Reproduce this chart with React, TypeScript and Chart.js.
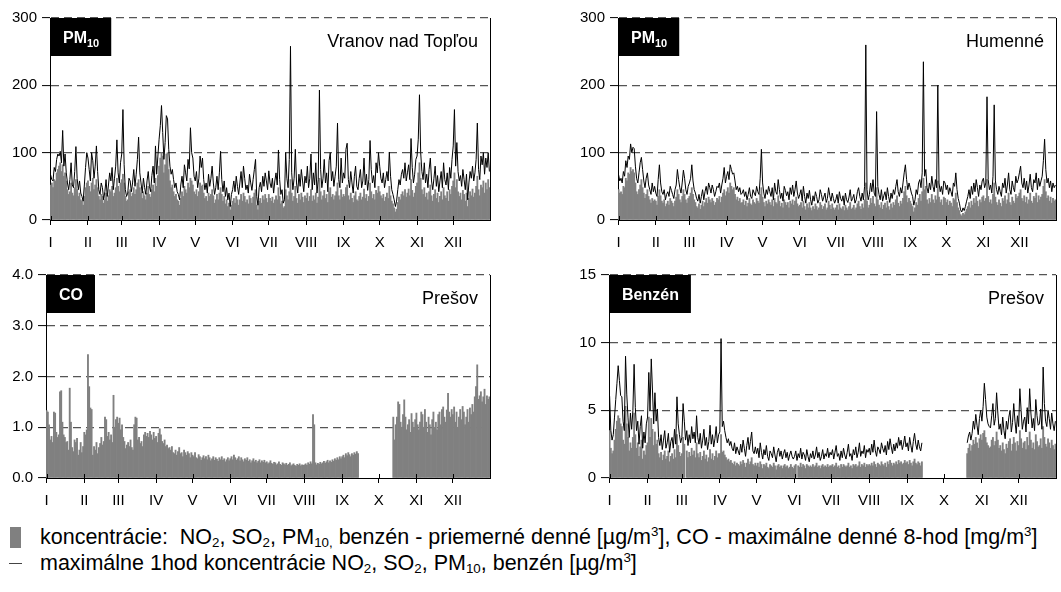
import { useEffect, useRef } from "react";
import { Chart, registerables } from "chart.js";

Chart.register(...registerables);

const FONT = '"Liberation Sans", Arial, Helvetica, sans-serif';

// Months as Roman numerals on the time axis
const MONTHS = ["I", "II", "III", "IV", "V", "VI", "VII", "VIII", "IX", "X", "XI", "XII"];
const MONTH_LENGTHS = [31, 28, 31, 30, 31, 30, 31, 31, 30, 31, 30, 31];
const MONTH_START: number[] = MONTH_LENGTHS.reduce<number[]>((acc, _n, i) => {
  acc.push(i === 0 ? 0 : acc[i - 1] + MONTH_LENGTHS[i - 1]);
  return acc;
}, []);

type Month = (number | null)[];

// PM10 – Vranov nad Topľou, daily mean [µg/m3], one row per month
const vranovDaily: Month[] = [
  [52, 55, 48, 60, 58, 70, 75, 80, 85, 72, 82, 65, 70, 58, 45, 38, 42, 55, 40, 36, 48, 60, 45, 35, 40, 30, 28, 22, 35, 48, 55],
  [58, 50, 42, 55, 62, 45, 52, 60, 48, 35, 30, 38, 35, 25, 30, 40, 28, 36, 45, 42, 50, 35, 40, 48, 62, 50, 42, 55],
  [60, 68, 55, 35, 28, 30, 42, 45, 35, 40, 48, 38, 45, 55, 60, 48, 40, 32, 42, 36, 30, 40, 50, 38, 34, 45, 52, 42, 62, 50, 66],
  [80, 92, 100, 95, 70, 82, 98, 100, 75, 58, 48, 52, 42, 35, 38, 30, 28, 22, 32, 42, 35, 50, 45, 40, 55, 48, 62, 58, 52, 42],
  [38, 45, 35, 42, 55, 50, 52, 40, 32, 35, 28, 40, 35, 38, 45, 36, 25, 30, 38, 30, 40, 48, 38, 28, 35, 24, 30, 20, 25, 15, 22],
  [28, 32, 25, 35, 30, 22, 30, 38, 28, 40, 35, 26, 30, 24, 36, 32, 25, 34, 40, 45, 22, 15, 28, 32, 25, 36, 30, 38, 32, 26],
  [38, 32, 28, 34, 25, 30, 36, 30, 48, 35, 24, 28, 18, 20, 45, 36, 30, 42, 60, 40, 28, 35, 50, 32, 25, 38, 30, 40, 34, 26, 36],
  [32, 40, 28, 35, 45, 28, 36, 30, 40, 25, 34, 62, 42, 30, 36, 44, 32, 38, 26, 42, 48, 34, 38, 30, 36, 42, 55, 36, 30, 45, 34],
  [38, 35, 48, 52, 36, 30, 40, 32, 26, 36, 42, 30, 28, 35, 40, 30, 34, 46, 32, 38, 28, 35, 55, 42, 32, 38, 30, 44, 40, 50],
  [42, 36, 32, 38, 28, 34, 40, 32, 50, 36, 28, 24, 18, 12, 16, 26, 34, 30, 38, 42, 36, 45, 34, 40, 46, 36, 60, 44, 34, 40, 50],
  [55, 70, 85, 62, 45, 38, 48, 34, 40, 30, 42, 52, 36, 28, 38, 45, 32, 40, 26, 35, 42, 30, 48, 36, 32, 42, 28, 45, 38, 50],
  [58, 70, 48, 60, 42, 35, 40, 30, 44, 38, 28, 40, 20, 32, 42, 36, 46, 34, 40, 50, 65, 45, 36, 52, 48, 58, 40, 55, 45, 60, 48],
];

// PM10 – Vranov nad Topľou, daily maximum of 1-hour values [µg/m3]
const vranovMax1h: Month[] = [
  [67, 60, 58, 78, 72, 90, 98, 95, 102, 85, 133, 80, 98, 70, 55, 45, 60, 85, 52, 48, 72, 109, 62, 45, 58, 40, 35, 28, 52, 78, 100],
  [92, 75, 58, 100, 88, 62, 80, 110, 72, 45, 38, 55, 48, 30, 42, 60, 35, 52, 70, 58, 78, 45, 62, 80, 119, 70, 55, 85],
  [98, 164, 82, 45, 35, 40, 62, 58, 42, 55, 75, 50, 68, 90, 123, 70, 55, 40, 62, 48, 38, 58, 72, 50, 42, 66, 80, 55, 110, 68, 95],
  [120, 140, 170, 130, 90, 115, 155, 150, 105, 80, 68, 75, 60, 48, 55, 42, 38, 30, 52, 65, 48, 82, 70, 58, 90, 76, 137, 100, 92, 65],
  [58, 72, 48, 62, 95, 78, 92, 60, 45, 55, 40, 68, 50, 62, 80, 55, 38, 48, 65, 45, 70, 102, 60, 42, 58, 35, 48, 30, 40, 20, 38],
  [45, 58, 42, 65, 50, 38, 55, 72, 48, 80, 62, 45, 52, 40, 68, 55, 44, 60, 75, 90, 35, 22, 48, 56, 42, 65, 50, 70, 58, 45],
  [73, 55, 48, 62, 40, 58, 70, 52, 104, 60, 38, 45, 25, 30, 100, 62, 48, 90, 258, 70, 45, 62, 105, 55, 40, 68, 50, 75, 58, 42, 65],
  [55, 80, 48, 62, 98, 45, 70, 52, 85, 40, 60, 193, 75, 48, 62, 90, 55, 70, 42, 88, 100, 58, 72, 50, 65, 80, 144, 60, 48, 92, 55],
  [70, 62, 105, 114, 60, 48, 72, 55, 40, 65, 80, 50, 45, 62, 75, 48, 58, 92, 52, 68, 44, 60, 118, 75, 55, 66, 48, 85, 70, 100],
  [80, 62, 55, 70, 48, 60, 72, 58, 101, 65, 45, 38, 30, 20, 28, 45, 60, 52, 68, 75, 62, 85, 58, 70, 82, 60, 121, 78, 55, 68, 90],
  [95, 120, 186, 100, 72, 60, 85, 55, 68, 48, 75, 92, 58, 45, 62, 80, 50, 66, 42, 58, 72, 48, 85, 60, 52, 70, 45, 78, 62, 90],
  [110, 164, 80, 115, 72, 58, 66, 50, 75, 60, 45, 68, 30, 55, 72, 62, 80, 58, 70, 90, 144, 75, 60, 95, 82, 100, 68, 92, 78, 100, 72],
];

// PM10 – Humenné, daily mean [µg/m3]
const humenneDaily: Month[] = [
  [45, 40, 42, 38, 50, 48, 62, 58, 70, 68, 78, 72, 75, 70, 55, 42, 38, 45, 52, 60, 48, 40, 32, 38, 45, 35, 30, 25, 32, 28, 30],
  [28, 22, 35, 45, 36, 28, 25, 30, 20, 24, 28, 22, 32, 28, 25, 20, 28, 34, 45, 38, 30, 26, 35, 45, 38, 30, 25, 32],
  [35, 40, 48, 38, 30, 26, 20, 18, 24, 16, 22, 28, 20, 26, 32, 25, 34, 30, 26, 32, 28, 22, 26, 32, 30, 35, 26, 34, 40, 45, 36],
  [42, 48, 40, 55, 50, 45, 48, 38, 30, 34, 28, 32, 25, 26, 30, 22, 28, 20, 25, 32, 24, 22, 30, 26, 24, 32, 28, 25, 38, 48],
  [34, 26, 20, 28, 24, 30, 26, 22, 30, 20, 32, 26, 24, 36, 28, 20, 25, 18, 30, 26, 22, 26, 18, 28, 24, 30, 22, 28, 34, 24, 20],
  [22, 26, 18, 28, 20, 15, 24, 18, 26, 18, 14, 20, 16, 24, 20, 15, 18, 26, 22, 16, 20, 24, 15, 18, 28, 22, 16, 24, 18, 15],
  [18, 22, 15, 24, 18, 16, 20, 14, 22, 18, 15, 20, 26, 16, 18, 22, 15, 18, 24, 28, 20, 16, 24, 18, 30, 55, 28, 18, 22, 32, 25],
  [35, 24, 20, 48, 30, 22, 18, 26, 16, 22, 25, 18, 28, 20, 15, 24, 18, 26, 22, 30, 36, 25, 20, 28, 24, 32, 42, 50, 36, 26, 32],
  [28, 24, 20, 12, 18, 26, 22, 32, 38, 28, 42, 62, 45, 50, 30, 24, 32, 26, 38, 30, 25, 36, 30, 58, 34, 26, 30, 22, 34, 32],
  [26, 30, 22, 28, 25, 20, 32, 30, 40, 26, 18, 14, 8, 6, 10, 8, 12, 16, 20, 26, 18, 28, 22, 32, 25, 35, 28, 20, 30, 26, 34],
  [36, 28, 32, 60, 35, 26, 30, 24, 38, 55, 34, 26, 22, 30, 25, 20, 32, 28, 36, 24, 30, 40, 26, 22, 34, 28, 25, 38, 32, 35],
  [40, 45, 32, 28, 36, 26, 34, 24, 30, 40, 28, 25, 35, 32, 40, 26, 36, 30, 34, 38, 50, 60, 42, 32, 36, 28, 34, 25, 32, 28, 30],
];

// PM10 – Humenné, daily maximum of 1-hour values [µg/m3]
const humenneMax1h: Month[] = [
  [67, 58, 62, 55, 72, 65, 88, 78, 95, 90, 113, 100, 108, 106, 80, 62, 55, 70, 85, 93, 75, 58, 48, 62, 70, 52, 45, 38, 55, 42, 50],
  [40, 35, 60, 82, 55, 42, 38, 45, 30, 38, 42, 35, 50, 44, 38, 32, 45, 52, 75, 60, 48, 40, 55, 74, 62, 45, 38, 50],
  [55, 62, 82, 58, 45, 40, 32, 28, 38, 25, 35, 45, 30, 42, 50, 38, 55, 48, 40, 52, 45, 35, 42, 50, 48, 55, 40, 52, 62, 78, 55],
  [65, 72, 60, 82, 75, 68, 70, 58, 45, 50, 42, 48, 38, 40, 45, 35, 42, 30, 38, 48, 35, 32, 45, 40, 36, 50, 42, 38, 62, 105],
  [55, 40, 32, 45, 38, 50, 42, 35, 48, 30, 55, 42, 38, 60, 45, 32, 40, 28, 50, 44, 36, 42, 30, 48, 38, 52, 35, 45, 58, 40, 32],
  [38, 45, 28, 50, 35, 25, 40, 32, 44, 30, 22, 36, 28, 42, 35, 25, 30, 45, 38, 28, 34, 40, 26, 32, 48, 36, 28, 40, 32, 25],
  [30, 38, 25, 42, 32, 28, 36, 22, 40, 30, 26, 34, 45, 28, 32, 38, 25, 30, 42, 48, 35, 28, 40, 30, 50, 260, 45, 30, 38, 55, 42],
  [60, 40, 35, 161, 50, 38, 30, 45, 28, 36, 42, 30, 48, 35, 26, 40, 32, 45, 38, 50, 60, 42, 35, 48, 40, 55, 70, 82, 60, 45, 55],
  [48, 40, 35, 22, 30, 45, 38, 55, 60, 48, 70, 235, 65, 75, 48, 40, 55, 45, 65, 50, 42, 60, 48, 200, 55, 42, 50, 38, 58, 55],
  [45, 52, 38, 48, 42, 35, 55, 50, 70, 45, 32, 25, 15, 12, 18, 14, 20, 28, 35, 45, 32, 50, 38, 55, 42, 60, 48, 35, 52, 45, 58],
  [62, 48, 55, 183, 60, 45, 52, 40, 65, 171, 58, 45, 38, 50, 42, 35, 55, 48, 62, 40, 52, 70, 45, 38, 58, 48, 42, 65, 55, 60],
  [70, 80, 55, 48, 62, 45, 58, 40, 52, 68, 48, 42, 60, 55, 70, 45, 62, 50, 58, 65, 88, 120, 75, 55, 62, 48, 58, 42, 55, 48, 52],
];

// CO – Prešov, daily maximum 8-hour mean [mg/m3]
const presovCO8h: Month[] = [
  [1.33, 1.3, 1.05, 0.75, 0.82, 0.7, 1.3, 1.28, 0.9, 0.8, 0.85, 1.7, 1.72, 1.1, 0.85, 0.8, 0.7, 0.72, 0.55, 1.77, 1.1, 0.6, 0.52, 0.75, 0.7, 0.78, 0.45, 0.55, 0.7, 0.5, 0.62],
  [0.9, 0.85, 0.95, 2.43, 1.8, 1.38, 1.35, 0.45, 0.62, 0.55, 0.7, 0.48, 0.6, 0.68, 0.8, 0.65, 0.72, 1.2, 1.15, 0.82, 0.9, 0.75, 0.85, 0.7, 1.63, 1.0, 1.15, 1.2],
  [1.08, 1.18, 0.95, 1.05, 0.8, 0.72, 0.58, 0.65, 0.7, 0.62, 0.75, 0.6, 0.55, 1.05, 1.2, 1.18, 0.75, 0.8, 0.68, 0.72, 0.62, 0.85, 0.9, 0.82, 0.88, 0.8, 0.92, 0.85, 0.75, 0.9, 0.78],
  [0.82, 0.7, 0.88, 0.97, 0.85, 0.72, 0.68, 0.75, 0.62, 0.65, 0.58, 0.6, 0.55, 0.62, 0.5, 0.48, 0.55, 0.45, 0.52, 0.6, 0.48, 0.5, 0.42, 0.55, 0.5, 0.45, 0.52, 0.48, 0.4, 0.5],
  [0.45, 0.42, 0.5, 0.4, 0.38, 0.46, 0.42, 0.35, 0.4, 0.44, 0.38, 0.42, 0.36, 0.45, 0.4, 0.34, 0.38, 0.42, 0.35, 0.4, 0.37, 0.33, 0.4, 0.36, 0.42, 0.35, 0.38, 0.32, 0.36, 0.4, 0.34],
  [0.38, 0.42, 0.36, 0.45, 0.4, 0.35, 0.38, 0.42, 0.34, 0.4, 0.36, 0.32, 0.38, 0.35, 0.4, 0.33, 0.36, 0.3, 0.34, 0.38, 0.32, 0.35, 0.3, 0.33, 0.36, 0.3, 0.34, 0.31, 0.35, 0.3],
  [0.32, 0.28, 0.3, 0.34, 0.29, 0.27, 0.31, 0.3, 0.26, 0.28, 0.32, 0.27, 0.25, 0.3, 0.28, 0.26, 0.29, 0.25, 0.27, 0.3, 0.24, 0.26, 0.28, 0.25, 0.23, 0.27, 0.25, 0.28, 0.24, 0.26, 0.25],
  [0.26, 0.28, 0.25, 0.3, 0.27, 0.32, 0.28, 1.25, 1.05, 0.3, 0.26, 0.29, 0.27, 0.31, 0.28, 0.3, 0.33, 0.29, 0.32, 0.35, 0.3, 0.34, 0.31, 0.36, 0.33, 0.38, 0.35, 0.4, 0.36, 0.42, 0.38],
  [0.42, 0.45, 0.4, 0.48, 0.44, 0.5, 0.46, 0.42, 0.48, 0.45, 0.5, 0.47, 0.52, 0.48, null, null, null, null, null, null, null, null, null, null, null, null, null, null, null, null],
  [null, null, null, null, null, null, null, null, null, null, null, null, 1.2, 0.75, 1.05, 1.2, 1.5, 1.45, 1.1, 1.0, 1.25, 1.54, 1.2, 0.95, 1.05, 1.15, 0.9, 1.27, 1.1, 1.0, 1.15],
  [1.28, 1.05, 0.95, 1.1, 1.3, 1.25, 1.0, 1.35, 1.1, 0.9, 1.2, 1.05, 0.85, 1.15, 1.3, 1.0, 1.1, 0.95, 1.25, 1.3, 1.05, 1.35, 1.4, 1.2, 1.1, 1.34, 1.67, 1.3, 1.2, 1.35],
  [1.25, 1.4, 1.1, 1.3, 1.0, 1.2, 1.35, 1.15, 1.41, 1.3, 1.05, 1.2, 1.35, 1.1, 1.38, 1.25, 1.45, 1.3, 1.6, 1.8, 2.23, 1.55, 1.62, 1.7, 1.5, 1.6, 1.75, 1.45, 1.62, 1.55, 1.6],
];

// Benzene – Prešov, daily mean [µg/m3]
const presovBenzDaily: Month[] = [
  [3.5, 2.2, 1.8, 2.0, 2.8, 3.6, 4.2, 4.6, 4.4, 4.0, 3.8, 2.8, 2.5, 5.3, 4.0, 3.0, 2.0, 2.6, 2.2, 3.0, 4.8, 3.2, 2.2, 2.6, 1.6, 2.3, 2.8, 1.4, 2.0, 1.7, 2.4],
  [2.6, 4.5, 3.0, 4.4, 3.6, 2.4, 3.4, 2.5, 2.8, 1.8, 1.5, 1.9, 1.3, 1.7, 2.0, 1.4, 1.6, 2.0, 1.2, 1.6, 1.8, 1.4, 2.1, 1.5, 3.2, 2.4, 1.9, 1.6],
  [1.8, 3.0, 2.5, null, 2.0, 1.5, 1.9, 1.6, 2.2, 1.7, 2.0, 1.5, 2.6, 1.8, 1.5, 1.9, 1.3, 1.6, 2.0, 1.4, 1.7, 1.2, 1.5, 2.1, 1.4, 1.8, 1.3, 1.6, 2.0, 1.5, 1.8],
  [1.8, 3.2, 1.9, 2.0, 1.7, 1.5, 1.3, 1.4, 1.2, 1.3, 1.1, 1.0, 1.2, 0.9, 1.1, 1.0, 0.9, 1.2, 1.0, 1.3, 1.1, 0.8, 1.1, 1.4, 1.0, 1.2, 1.5, 1.0, 0.9, 1.1],
  [0.9, 1.1, 0.8, 1.2, 1.0, 0.7, 1.0, 0.9, 1.1, 0.8, 0.7, 1.0, 0.9, 0.8, 1.1, 0.9, 0.6, 0.9, 1.0, 0.8, 0.9, 0.7, 0.9, 1.0, 0.8, 0.9, 0.7, 0.8, 1.0, 0.8, 0.7],
  [0.9, 1.0, null, 0.9, 0.8, 1.1, 0.8, 1.0, 0.9, 0.7, 1.0, 0.9, 0.8, 0.9, 0.8, 1.0, 0.8, 0.9, 1.1, 0.8, 0.9, 0.7, 0.9, 1.0, 0.8, 0.9, 0.8, 1.0, 0.8, 0.9],
  [0.9, 1.0, 0.8, 0.9, 1.1, 0.8, 0.9, 0.7, 1.0, 0.8, 1.0, 0.9, 0.8, 0.9, 1.1, 0.8, 0.9, 0.7, 1.0, 0.9, 1.0, 0.8, 0.9, 1.2, 0.8, 1.0, 0.9, 1.1, 0.8, 1.0, 0.9],
  [1.0, 0.9, 1.1, 0.9, 1.2, 1.0, 0.8, 1.1, 1.0, 0.9, 1.2, 1.0, 0.9, 1.1, 0.8, 1.2, 1.0, 1.3, 1.1, 0.9, 1.1, 1.0, 1.2, 1.0, 1.3, 1.1, 1.2, 1.0, 1.1, 1.3, 1.1],
  [1.2, 1.0, 1.3, 1.1, 0.9, 1.2, 1.4, 1.1, 1.0, 1.2, 1.1, 0.9, 1.2, null, null, null, null, null, null, null, null, null, null, null, null, null, null, null, null, null],
  [null, null, null, null, null, null, null, null, null, null, null, null, null, null, null, null, null, null, null, 1.8, 2.2, 2.5, 2.0, 2.4, 2.8, 2.5, 3.0, 2.6, 2.2, 2.9, 3.2],
  [2.8, 3.3, 3.5, 3.0, 2.6, 2.4, 2.2, 2.3, 2.8, 3.0, 2.4, 2.7, 3.4, 2.8, 2.2, 2.4, 2.0, 2.6, 2.1, 1.8, 2.5, 2.2, 2.7, 2.9, 2.0, 2.5, 3.0, 2.6, 2.0, 2.7],
  [2.4, 3.5, 2.9, 2.2, 2.6, 2.7, 2.1, 3.0, 2.4, 3.4, 2.8, 2.2, 2.6, 2.1, 3.2, 2.7, 2.3, 2.4, 2.9, 2.2, 3.8, 3.0, 2.5, 2.3, 2.9, 2.6, 2.2, 2.8, 2.4, 2.1, 2.5],
];

// Benzene – Prešov, daily maximum of 1-hour values [µg/m3]
const presovBenzMax1h: Month[] = [
  [6.05, 3.5, 2.8, 3.2, 4.5, 5.8, 7.0, 8.3, 7.2, 6.1, 6.0, 4.2, 3.5, 9.0, 6.2, 4.5, 3.0, 4.8, 3.6, 5.0, 8.4, 5.2, 3.5, 4.2, 2.5, 3.8, 4.6, 2.2, 3.4, 2.6, 4.0],
  [4.5, 7.8, 5.0, 8.8, 6.5, 4.0, 6.3, 4.2, 5.1, 3.0, 2.4, 3.2, 2.1, 2.8, 3.5, 2.2, 2.6, 3.3, 1.9, 2.7, 3.0, 2.2, 3.6, 2.5, 6.0, 4.0, 3.2, 2.6],
  [3.0, 5.5, 4.2, 2.8, 3.5, 2.4, 3.2, 2.6, 3.8, 2.9, 3.4, 2.6, 4.6, 3.0, 2.5, 3.3, 2.2, 2.8, 3.6, 2.4, 3.0, 2.1, 2.7, 3.9, 2.5, 3.2, 2.3, 2.9, 3.8, 2.6, 3.2],
  [3.4, 10.3, 3.8, 4.2, 3.5, 3.0, 2.6, 2.9, 2.4, 2.7, 2.2, 2.0, 2.6, 1.8, 2.3, 2.0, 1.7, 2.5, 1.9, 2.8, 2.2, 1.6, 2.4, 3.0, 2.1, 2.7, 3.4, 2.0, 1.8, 2.3],
  [1.8, 2.2, 1.5, 2.6, 1.9, 1.4, 2.1, 1.7, 2.4, 1.6, 1.3, 2.0, 1.8, 1.5, 2.3, 1.7, 1.2, 1.9, 2.2, 1.6, 2.0, 1.4, 1.8, 2.1, 1.5, 1.9, 1.3, 1.7, 2.0, 1.6, 1.4],
  [1.6, 2.0, 1.3, 1.8, 1.5, 2.2, 1.4, 1.9, 1.7, 1.3, 2.1, 1.6, 1.2, 1.8, 1.5, 2.0, 1.4, 1.7, 2.3, 1.5, 1.9, 1.3, 1.6, 2.1, 1.4, 1.8, 1.6, 2.2, 1.5, 1.9],
  [1.7, 2.1, 1.4, 1.9, 2.4, 1.6, 1.8, 1.3, 2.0, 1.5, 2.2, 1.7, 1.4, 1.9, 2.5, 1.6, 1.8, 1.3, 2.1, 1.7, 2.3, 1.5, 1.9, 2.6, 1.6, 2.0, 1.8, 2.4, 1.5, 2.1, 1.9],
  [2.2, 1.7, 2.5, 1.9, 2.8, 2.0, 1.6, 2.3, 2.1, 1.8, 2.6, 2.2, 1.9, 2.4, 1.7, 2.7, 2.1, 2.9, 2.3, 1.8, 2.5, 2.0, 2.6, 2.2, 3.0, 2.4, 2.8, 2.1, 2.5, 3.1, 2.3],
  [2.6, 2.0, 3.0, 2.4, 1.9, 2.7, 3.3, 2.5, 2.1, 2.8, 2.3, 2.0, 2.6, null, null, null, null, null, null, null, null, null, null, null, null, null, null, null, null, null],
  [null, null, null, null, null, null, null, null, null, null, null, null, null, null, null, null, null, null, null, 2.6, 3.1, 3.4, 2.8, 3.3, 4.2, 3.6, 4.7, 3.9, 3.2, 4.4, 5.0],
  [4.2, 5.3, 7.0, 5.8, 4.5, 4.0, 3.8, 3.7, 4.6, 5.5, 3.9, 4.4, 6.3, 4.8, 3.6, 4.0, 3.2, 4.5, 3.5, 2.9, 4.2, 3.6, 4.5, 5.0, 3.4, 4.1, 5.5, 4.2, 3.3, 4.6],
  [3.8, 6.6, 5.0, 3.6, 4.2, 4.5, 3.4, 5.2, 4.0, 6.6, 4.8, 3.7, 4.4, 3.5, 5.8, 4.6, 3.9, 4.0, 5.1, 3.6, 8.2, 5.5, 4.2, 3.8, 5.0, 4.4, 3.6, 4.8, 4.0, 3.5, 4.2],
];

type Pt = { x: number; y: number | null };

// Place each month's values on its day-of-year position
function toPoints(months: Month[]): Pt[] {
  const pts: Pt[] = [];
  months.forEach((vals, m) => {
    vals.forEach((v, i) => pts.push({ x: MONTH_START[m] + i, y: v }));
  });
  return pts;
}

type Panel = {
  left: number;
  top: number;
  width: number;
  height: number;
  yWidth: number;
  padTop: number;
  padRight: number;
  xHeight: number;
  yMax: number;
  yStep: number;
  decimals: number;
  daily: Month[];
  max1h?: Month[];
  badge: string;
  badgeSub?: string;
  station: string;
};

const PANELS: Panel[] = [
  {
    left: 0, top: 0, width: 500, height: 260,
    yWidth: 50, padTop: 18, padRight: 10, xHeight: 40,
    yMax: 300, yStep: 100, decimals: 0,
    daily: vranovDaily, max1h: vranovMax1h,
    badge: "PM", badgeSub: "10", station: "Vranov nad Topľou",
  },
  {
    left: 560, top: 0, width: 501, height: 260,
    yWidth: 58, padTop: 18, padRight: 5, xHeight: 40,
    yMax: 300, yStep: 100, decimals: 0,
    daily: humenneDaily, max1h: humenneMax1h,
    badge: "PM", badgeSub: "10", station: "Humenné",
  },
  {
    left: 0, top: 255, width: 500, height: 260,
    yWidth: 46, padTop: 20, padRight: 10, xHeight: 37,
    yMax: 4, yStep: 1, decimals: 1,
    daily: presovCO8h,
    badge: "CO", station: "Prešov",
  },
  {
    left: 560, top: 255, width: 501, height: 260,
    yWidth: 49, padTop: 20, padRight: 5, xHeight: 37,
    yMax: 15, yStep: 5, decimals: 0,
    daily: presovBenzDaily, max1h: presovBenzMax1h,
    badge: "Benzén", station: "Prešov",
  },
];

function PanelChart({ p }: { p: Panel }) {
  const ref = useRef<HTMLCanvasElement>(null);

  useEffect(() => {
    if (!ref.current) return;

    const decor = {
      id: "panelDecor",
      afterDraw(chart: any) {
        const { ctx, chartArea: a, scales } = chart;
        ctx.save();
        // right frame line
        ctx.strokeStyle = "#000";
        ctx.lineWidth = 1;
        ctx.setLineDash([]);
        ctx.beginPath();
        const rx = Math.round(a.right) + 0.5;
        ctx.moveTo(rx, a.top);
        ctx.lineTo(rx, a.bottom);
        // month tick marks reaching into the plot
        const xs = scales.x;
        xs.ticks.forEach((t: any) => {
          const px = Math.round(xs.getPixelForValue(t.value)) + 0.5;
          ctx.moveTo(px, a.bottom);
          ctx.lineTo(px, a.bottom - 4);
        });
        ctx.stroke();

        // pollutant badge
        ctx.font = `bold 16px ${FONT}`;
        const w1 = ctx.measureText(p.badge).width;
        let w2 = 0;
        if (p.badgeSub) {
          ctx.font = `bold 11px ${FONT}`;
          w2 = ctx.measureText(p.badgeSub).width;
        }
        const bx = Math.round(a.left) + 1;
        const by = Math.round(a.top);
        ctx.fillStyle = "#000";
        ctx.fillRect(bx, by, w1 + w2 + 24, 38);
        ctx.fillStyle = "#fff";
        ctx.textAlign = "left";
        ctx.textBaseline = "alphabetic";
        ctx.font = `bold 16px ${FONT}`;
        ctx.fillText(p.badge, bx + 12, by + 25);
        if (p.badgeSub) {
          ctx.font = `bold 11px ${FONT}`;
          ctx.fillText(p.badgeSub, bx + 12 + w1, by + 29);
        }

        // station name
        ctx.fillStyle = "#000";
        ctx.font = `18px ${FONT}`;
        ctx.textAlign = "right";
        ctx.textBaseline = "middle";
        ctx.fillText(p.station, a.right - 12, a.top + 24);
        ctx.restore();
      },
    };

    const datasets: any[] = [
      {
        type: "bar",
        data: toPoints(p.daily),
        backgroundColor: "#808080",
        borderWidth: 0,
        barPercentage: 1,
        categoryPercentage: 1,
        order: 2,
      },
    ];
    if (p.max1h) {
      datasets.push({
        type: "line",
        data: toPoints(p.max1h),
        borderColor: "#000",
        borderWidth: 1,
        borderJoinStyle: "round",
        pointRadius: 0,
        tension: 0,
        spanGaps: false,
        order: 1,
      });
    }

    const chart = new Chart(ref.current, {
      type: "bar",
      data: { datasets },
      plugins: [decor],
      options: {
        animation: false,
        responsive: false,
        devicePixelRatio: 1,
        events: [],
        layout: { padding: { top: p.padTop, right: p.padRight, left: 0, bottom: 0 } },
        plugins: {
          legend: { display: false },
          tooltip: { enabled: false },
          title: { display: false },
        },
        scales: {
          x: {
            type: "linear",
            offset: false,
            min: -0.5,
            max: 364.5,
            afterBuildTicks: (s: any) => {
              s.ticks = MONTH_START.map((v) => ({ value: v }));
            },
            afterFit: (s: any) => {
              s.height = p.xHeight;
            },
            ticks: {
              callback: (_v: any, i: number) => MONTHS[i],
              autoSkip: false,
              maxRotation: 0,
              minRotation: 0,
              padding: 9,
              color: "#000",
              font: { family: FONT, size: 15 },
            },
            grid: {
              offset: false,
              drawOnChartArea: false,
              drawTicks: true,
              tickLength: 5,
              color: "#000",
              tickColor: "#000",
              lineWidth: 1,
            },
            border: { display: true, color: "#000", width: 1 },
          },
          y: {
            min: 0,
            max: p.yMax,
            afterFit: (s: any) => {
              s.width = p.yWidth;
            },
            ticks: {
              stepSize: p.yStep,
              callback: (v: any) => Number(v).toFixed(p.decimals),
              padding: 5,
              color: "#000",
              font: { family: FONT, size: 15 },
            },
            grid: {
              color: (c: any) => (c.tick && c.tick.value === 0 ? "rgba(0,0,0,0)" : "#555"),
              lineWidth: 1.2,
              tickLength: 8,
              tickColor: "#000",
              tickWidth: 1,
              tickBorderDash: [],
            },
            border: { display: true, color: "#000", width: 1, dash: [8, 5] },
          },
        },
      } as any,
    });

    return () => chart.destroy();
  }, [p]);

  return (
    <canvas
      ref={ref}
      width={p.width}
      height={p.height}
      style={{ position: "absolute", left: p.left, top: p.top, width: p.width, height: p.height }}
    />
  );
}

const subStyle: React.CSSProperties = { fontSize: "0.62em", verticalAlign: "-0.25em", lineHeight: 0 };
const supStyle: React.CSSProperties = { fontSize: "0.62em", verticalAlign: "0.6em", lineHeight: 0 };

export default function App() {
  return (
    <div
      style={{
        position: "absolute",
        left: 0,
        top: 0,
        width: 1061,
        height: 592,
        background: "#fff",
        fontFamily: FONT,
        color: "#000",
        overflow: "hidden",
      }}
    >
      {PANELS.map((p, i) => (
        <PanelChart key={i} p={p} />
      ))}

      {/* legend */}
      <div style={{ position: "absolute", left: 10, top: 527, width: 11, height: 21, background: "#808080" }} />
      <div style={{ position: "absolute", left: 40, top: 524, fontSize: 21.5, lineHeight: "26px", whiteSpace: "nowrap" }}>
        koncentrácie:&nbsp; NO<span style={subStyle}>2</span>, SO<span style={subStyle}>2</span>, PM
        <span style={subStyle}>10,</span> benzén - priemerné denné [µg/m<span style={supStyle}>3</span>], CO - maximálne
        denné 8-hod [mg/m<span style={supStyle}>3</span>]
      </div>
      <div style={{ position: "absolute", left: 9, top: 563, width: 13, height: 1, background: "#444" }} />
      <div style={{ position: "absolute", left: 40, top: 550, fontSize: 21.5, lineHeight: "26px", whiteSpace: "nowrap" }}>
        maximálne 1hod koncentrácie NO<span style={subStyle}>2</span>, SO<span style={subStyle}>2</span>, PM
        <span style={subStyle}>10</span>, benzén [µg/m<span style={supStyle}>3</span>]
      </div>
    </div>
  );
}
